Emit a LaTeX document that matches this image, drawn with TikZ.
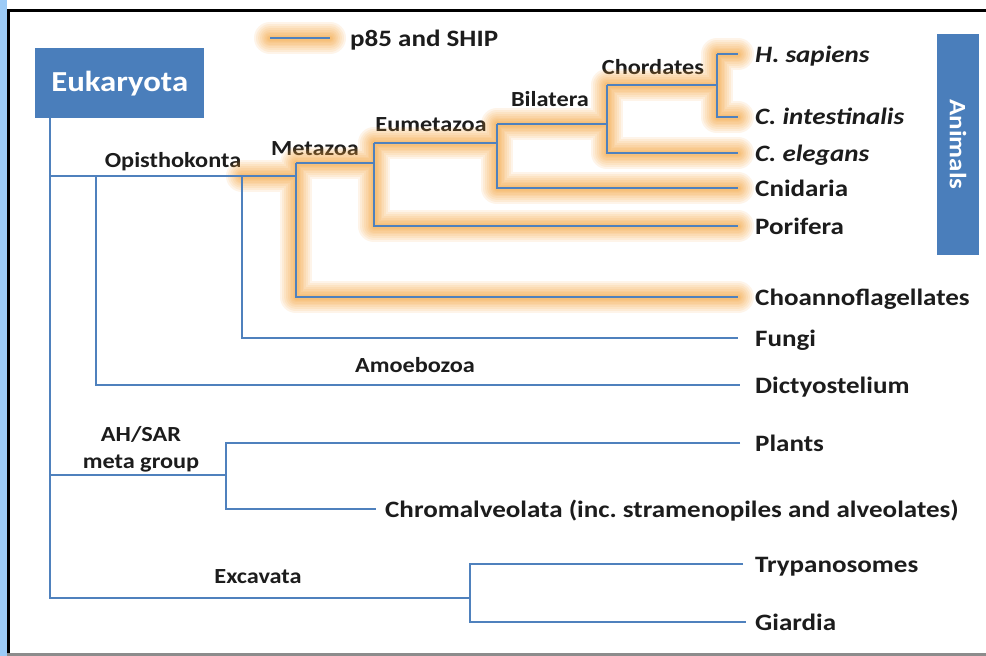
\documentclass[tikz,border=0pt]{standalone}
\usepackage{fontspec}
\setmainfont{Carlito}
\newfontfamily\leaffont[FakeStretch=1.15]{Carlito}
\newfontfamily\cladefont[FakeStretch=1.13]{Carlito}
\frenchspacing
\definecolor{brc}{HTML}{4F81BD}
\definecolor{boxc}{HTML}{4A7EBB}
\definecolor{glowc}{RGB}{246,163,55}
\definecolor{stripc}{HTML}{9CCBF7}
\definecolor{txtc}{HTML}{1C1C1C}
\tikzset{
  br/.style={draw=brc,line width=2.5pt},
  glowlayer/.style={draw=glowc,line width=#1,draw opacity=.11,line cap=round,line join=round},
  leaf/.style={anchor=base west,inner sep=0pt,font=\leaffont\fontsize{23.5}{28}\selectfont\bfseries,text=txtc},
  clade/.style={anchor=base,inner sep=0pt,font=\cladefont\fontsize{21.5}{26}\selectfont\bfseries,text=txtc,align=center},
}
\newcommand\myglow[1]{\foreach \gw in {32,28,24,20,16,13,10,7,5}{\draw[glowlayer=\gw pt] #1;}}
\begin{document}
\begin{tikzpicture}[x=1pt,y=-1pt]
\useasboundingbox (0,0) rectangle (986,656);
\fill[white] (0,0) rectangle (986,656);
% frame
\fill[stripc] (0,0) rectangle (7,656);
\draw[black,line width=3pt] (8.5,656) -- (8.5,10) -- (986,10);
\draw[black!45,line width=3pt] (7,654.5) -- (986,654.5);

% boxes
\node[fill=boxc,minimum width=169pt,minimum height=70pt,inner sep=0pt,anchor=north west,
  text=white,font=\cladefont\fontsize{29}{32}\selectfont\bfseries] (euk) at (35,48) {Eukaryota};
\node[fill=boxc,minimum width=221pt,minimum height=42pt,inner sep=0pt,rotate=-90,
  text=white,font=\leaffont\fontsize{23.5}{28}\selectfont\bfseries] (anim) at (958,144.5) {Animals};

% legend
\coordinate (lg1) at (270,38);
\coordinate (lg2) at (330,38);
\node[leaf] (lgt) at (350,46) {p85 and SHIP};

% leaves
\node[leaf] (hs) at (755,62) {\itshape H. sapiens};
\node[leaf] (ci) at (755,124) {\itshape C. intestinalis};
\node[leaf] (ce) at (755,161) {\itshape C. elegans};
\node[leaf] (cn) at (755,196) {Cnidaria};
\node[leaf] (po) at (755,234) {Porifera};
\node[leaf] (cf) at (755,305) {Choannoflagellates};
\node[leaf] (fg) at (755,346) {Fungi};
\node[leaf] (dy) at (755,393) {Dictyostelium};
\node[leaf] (pt) at (755,451) {Plants};
\node[leaf] (cr) at (385,517) {Chromalveolata (inc. stramenopiles and alveolates)};
\node[leaf] (ty) at (755,572) {Trypanosomes};
\node[leaf] (gi) at (755,630) {Giardia};

% leaf line ends
\coordinate (ehs) at (738,54);
\coordinate (eci) at (738,117);
\coordinate (ece) at (738,153);
\coordinate (ecn) at (738,188);
\coordinate (epo) at (738,226);
\coordinate (ecf) at (738,297);
\coordinate (efg) at (738,338);
\coordinate (edy) at (740,385);
\coordinate (ept) at (740,443);
\coordinate (ecr) at (376,509);
\coordinate (ety) at (743,564);
\coordinate (egi) at (746,622);

% junctions
\coordinate (o) at (50,176);
\coordinate (am) at (96,176);
\coordinate (fu) at (242,176);
\coordinate (me) at (296,176);
\coordinate (mt) at (296,163);
\coordinate (eut) at (374,143);
\coordinate (bit) at (497,124);
\coordinate (cht) at (607,85);
\coordinate (hst) at (717,54);
\coordinate (ah) at (50,475);
\coordinate (pl) at (226,475);
\coordinate (ex) at (470,598);

% clade labels
\node[clade] (lop) at (173,167) {Opisthokonta};
\node[clade] (lme) at (315,155) {Metazoa};
\node[clade] (leu) at (431,131) {Eumetazoa};
\node[clade] (lbi) at (550,106) {Bilatera};
\node[clade] (lch) at (653,74) {Chordates};
\node[clade] (lam) at (415,372) {Amoebozoa};
\node[clade] (lah) at (141,441) {AH/SAR};
\node[clade] (lmg) at (141,468) {meta group};
\node[clade] (lex) at (258,583) {Excavata};

% glow
\myglow{(lg1) -- (lg2)}
\myglow{(fu) -- (me) (mt) |- (ecf) (mt) -| (eut) |- (epo) (eut) -| (bit) |- (ecn) (bit) -| (cht) |- (ece) (cht) -| (hst) -- (ehs) (hst) |- (eci)}

% branches
\draw[br] (lg1) -- (lg2);
\draw[br] ([xshift=15pt]euk.south west) |- (ex);
\draw[br] (o) -- (me);
\draw[br] (am) |- (edy);
\draw[br] (fu) |- (efg);
\draw[br] (mt) |- (ecf);
\draw[br] (mt) -| (eut);
\draw[br] (eut) |- (epo);
\draw[br] (eut) -| (bit);
\draw[br] (bit) |- (ecn);
\draw[br] (bit) -| (cht);
\draw[br] (cht) |- (ece);
\draw[br] (cht) -| (hst);
\draw[br] (hst) -- (ehs);
\draw[br] (hst) |- (eci);
\draw[br] (ah) -- (pl);
\draw[br] (ept) -| (pl);
\draw[br] (pl) |- (ecr);
\draw[br] (ety) -| (ex);
\draw[br] (ex) |- (egi);
\end{tikzpicture}
\end{document}
